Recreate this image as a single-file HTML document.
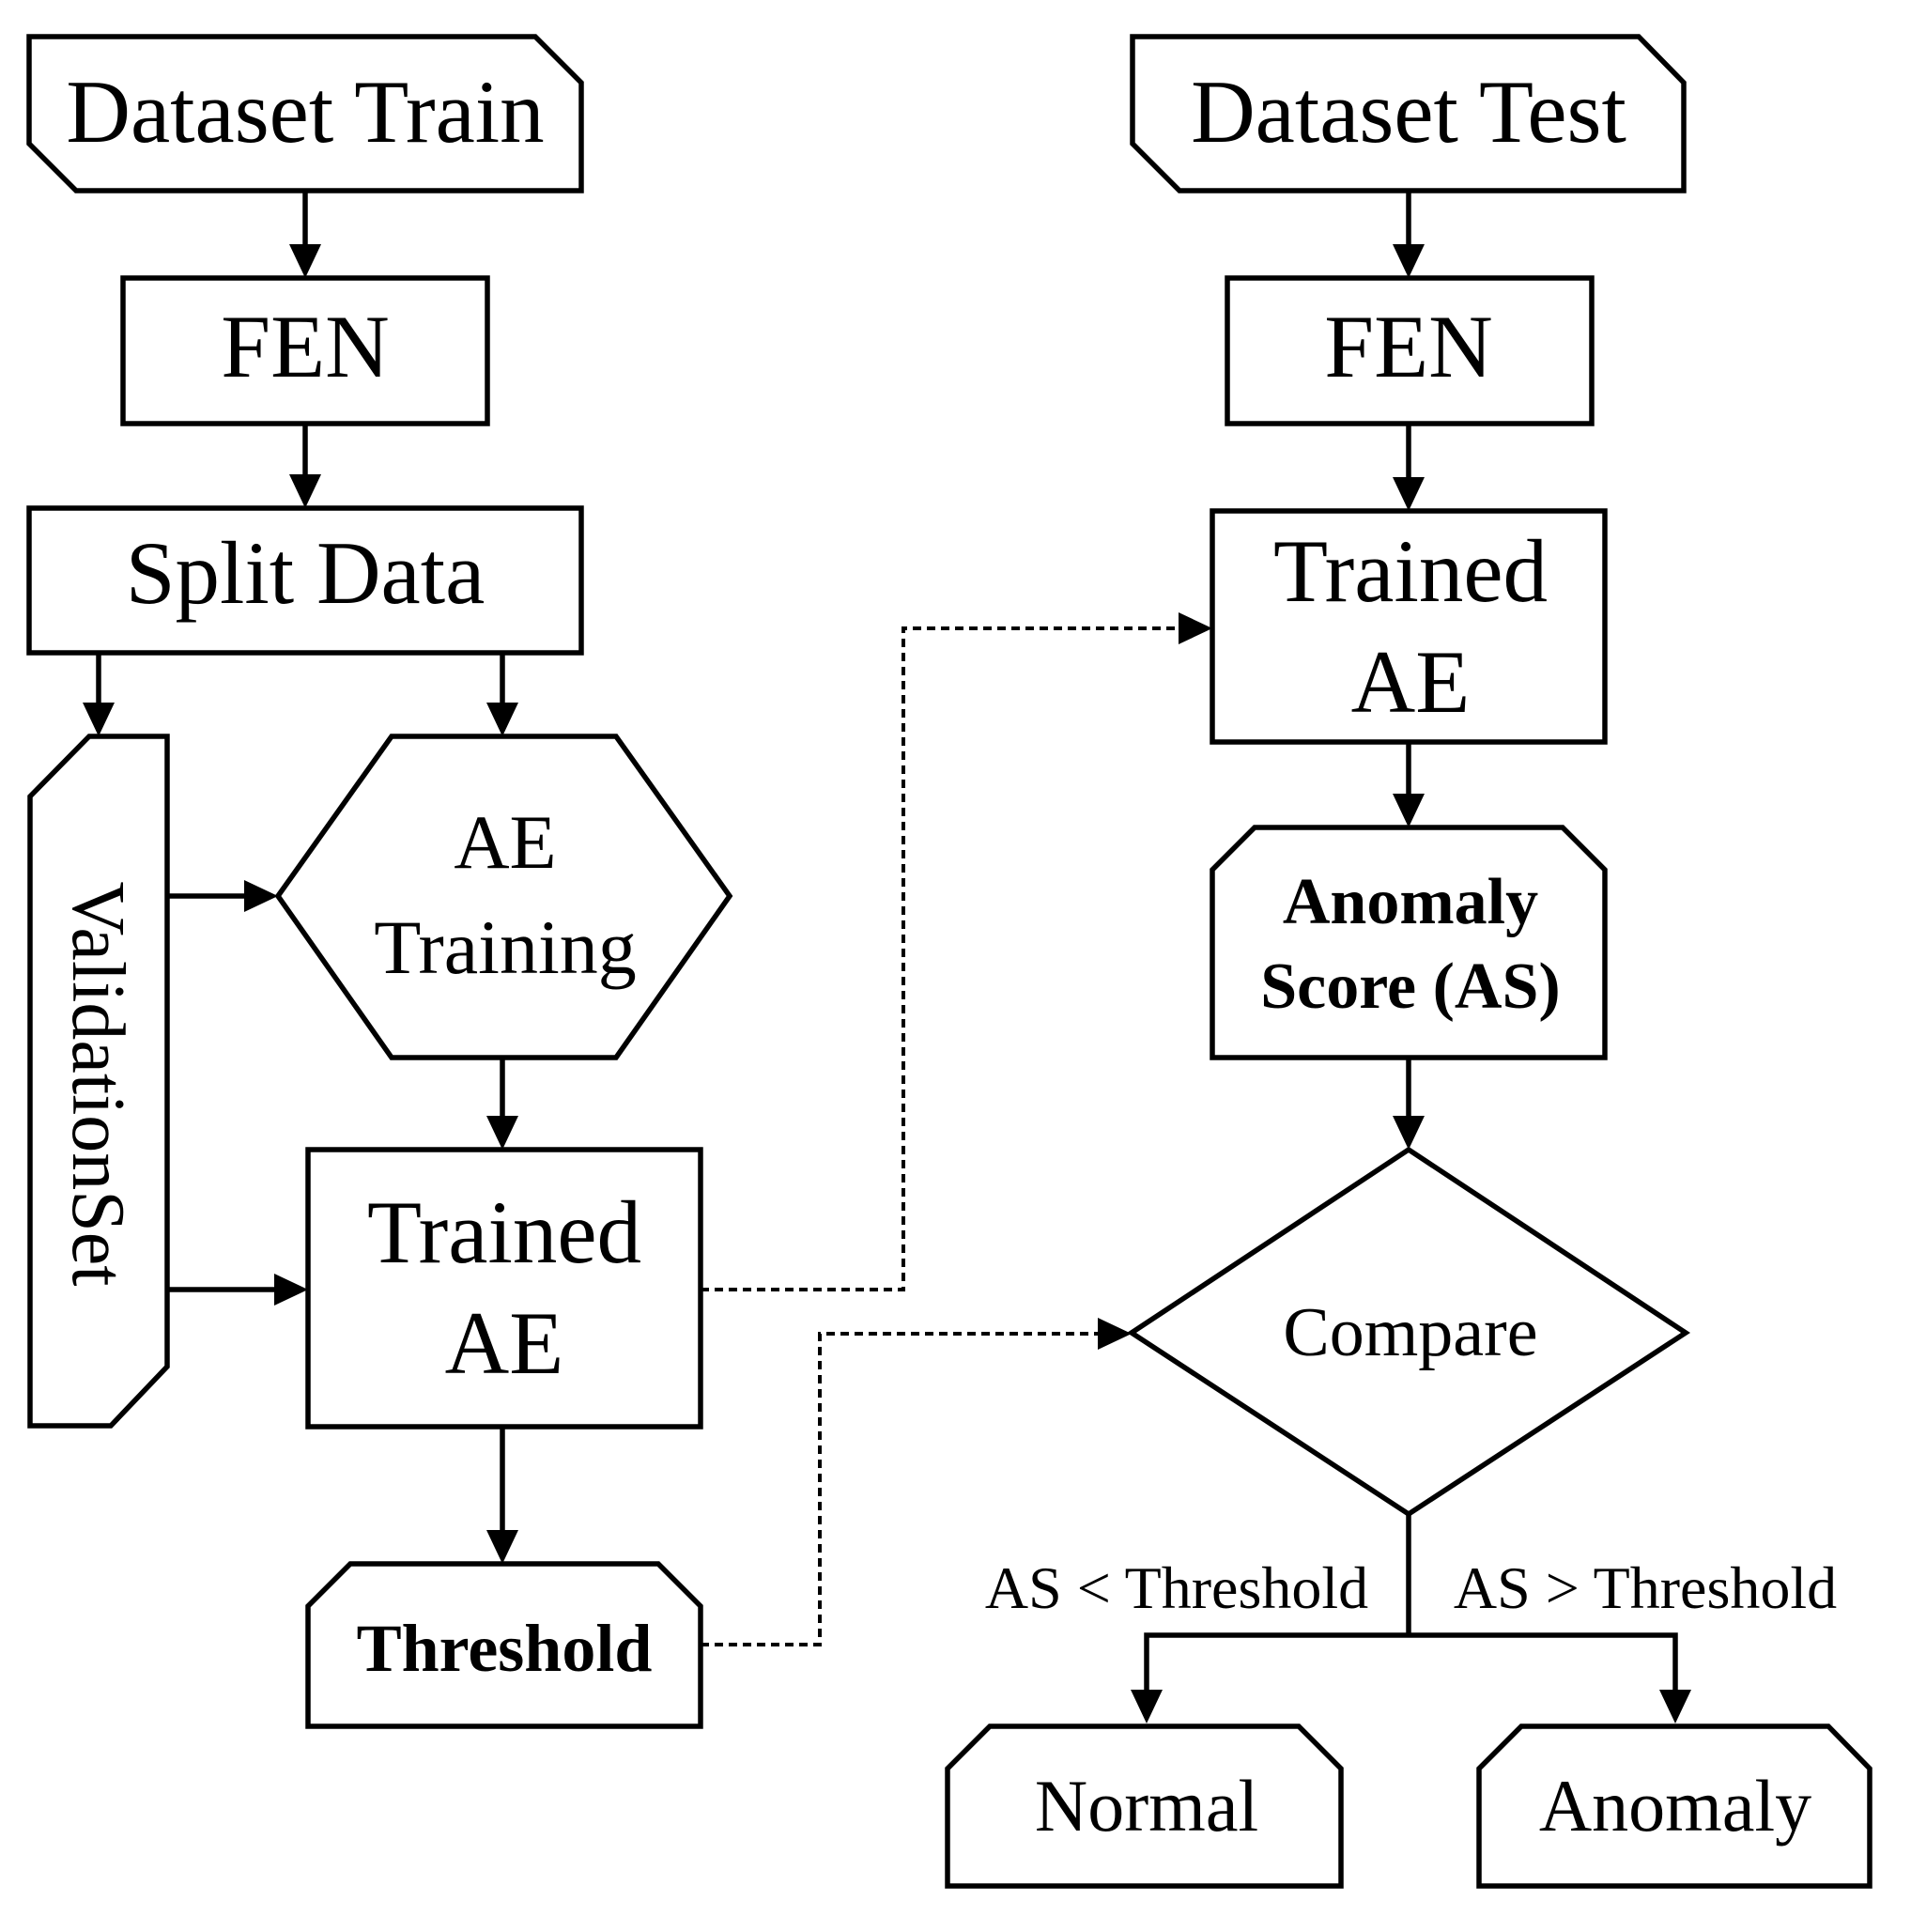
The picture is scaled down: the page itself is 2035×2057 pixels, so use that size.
<!DOCTYPE html>
<html><head><meta charset="utf-8"><style>
html,body{margin:0;padding:0;background:#fff;}
svg{display:block;}
text{font-family:"Liberation Serif",serif;fill:#000;}
</style></head><body>
<svg width="2035" height="2057" viewBox="0 0 2035 2057" xmlns="http://www.w3.org/2000/svg">
<defs>
<marker id="ah" markerWidth="10" markerHeight="10" refX="10" refY="5" orient="auto" markerUnits="userSpaceOnUse" viewBox="0 0 10 10">
</marker>
</defs>
<g fill="none" stroke="#000" stroke-width="5.5" stroke-linejoin="miter">
<!-- Left column -->
<polygon points="31,39 570,39 619,88 619,203 81,203 31,153"/>
<rect x="131" y="296" width="388" height="155"/>
<rect x="31" y="541" width="588" height="154"/>
<polygon points="95,784 178,784 178,1455 118,1518 32,1518 32,848"/>
<polygon points="296,954 417,784 656,784 777,954 656,1126 417,1126"/>
<rect x="328" y="1224" width="418" height="295"/>
<polygon points="373,1665 701,1665 746,1710 746,1838 328,1838 328,1710"/>
<!-- Right column -->
<polygon points="1206,39 1745,39 1793,88 1793,203 1256,203 1206,153"/>
<rect x="1307" y="296" width="388" height="155"/>
<rect x="1291" y="544" width="418" height="246"/>
<polygon points="1336,881 1664,881 1709,926 1709,1126 1291,1126 1291,926"/>
<polygon points="1500,1224 1795,1419 1500,1612 1205,1419"/>
<polygon points="1054,1838 1383,1838 1428,1883 1428,2008 1009,2008 1009,1883"/>
<polygon points="1620,1838 1947,1838 1991,1883 1991,2008 1575,2008 1575,1883"/>
<!-- solid connectors -->
<line x1="325" y1="203" x2="325" y2="268"/>
<line x1="325" y1="451" x2="325" y2="513"/>
<line x1="105" y1="695" x2="105" y2="756"/>
<line x1="535" y1="695" x2="535" y2="756"/>
<line x1="178" y1="954" x2="268" y2="954"/>
<line x1="178" y1="1373" x2="300" y2="1373"/>
<line x1="535" y1="1126" x2="535" y2="1196"/>
<line x1="535" y1="1519" x2="535" y2="1637"/>
<line x1="1500" y1="203" x2="1500" y2="268"/>
<line x1="1500" y1="451" x2="1500" y2="516"/>
<line x1="1500" y1="790" x2="1500" y2="853"/>
<line x1="1500" y1="1126" x2="1500" y2="1196"/>
<polyline points="1500,1612 1500,1741"/>
<polyline points="1221,1807 1221,1741 1784,1741 1784,1807"/>
</g>
<g fill="none" stroke="#000" stroke-width="4" stroke-dasharray="9,6">
<polyline points="746,1373 962,1373 962,669 1262,669"/>
<polyline points="746,1751 873,1751 873,1420 1177,1420"/>
</g>
<g fill="#000" stroke="none">
<!-- down arrowheads: tip at (x,y) -->
<polygon points="308,260 342,260 325,296"/>
<polygon points="308,505 342,505 325,541"/>
<polygon points="88,748 122,748 105,784"/>
<polygon points="518,748 552,748 535,784"/>
<polygon points="518,1188 552,1188 535,1224"/>
<polygon points="518,1629 552,1629 535,1665"/>
<polygon points="1483,260 1517,260 1500,296"/>
<polygon points="1483,508 1517,508 1500,544"/>
<polygon points="1483,845 1517,845 1500,881"/>
<polygon points="1483,1188 1517,1188 1500,1224"/>
<polygon points="1204,1799 1238,1799 1221,1835"/>
<polygon points="1767,1799 1801,1799 1784,1835"/>
<!-- right arrowheads -->
<polygon points="260,937 260,971 296,954"/>
<polygon points="292,1356 292,1390 328,1373"/>
<polygon points="1255,652 1255,686 1291,669"/>
<polygon points="1169,1403 1169,1437 1205,1420"/>
</g>
<g text-anchor="middle">
<text x="325" y="151" font-size="95">Dataset Train</text>
<text x="325" y="401" font-size="95">FEN</text>
<text x="325" y="642" font-size="95">Split Data</text>
<text x="538" y="924" font-size="82">AE</text>
<text x="538" y="1036" font-size="82">Training</text>
<text x="537" y="1344" font-size="95">Trained</text>
<text x="537" y="1462" font-size="95">AE</text>
<text x="537" y="1779" font-size="72" font-weight="bold">Threshold</text>
<text x="105" y="1154" font-size="80" transform="rotate(90 105 1154)" dy="27">ValidationSet</text>
<text x="1500" y="151" font-size="95">Dataset Test</text>
<text x="1500" y="401" font-size="95">FEN</text>
<text x="1502" y="640" font-size="95">Trained</text>
<text x="1502" y="758" font-size="95">AE</text>
<text x="1502" y="983" font-size="70" font-weight="bold">Anomaly</text>
<text x="1502" y="1073" font-size="70" font-weight="bold">Score (AS)</text>
<text x="1502" y="1443" font-size="74">Compare</text>
<text x="1221" y="1949" font-size="78">Normal</text>
<text x="1784" y="1949" font-size="78">Anomaly</text>
<text x="1253" y="1712" font-size="64">AS &lt; Threshold</text>
<text x="1752" y="1712" font-size="64">AS &gt; Threshold</text>
</g>
</svg>
</body></html>
